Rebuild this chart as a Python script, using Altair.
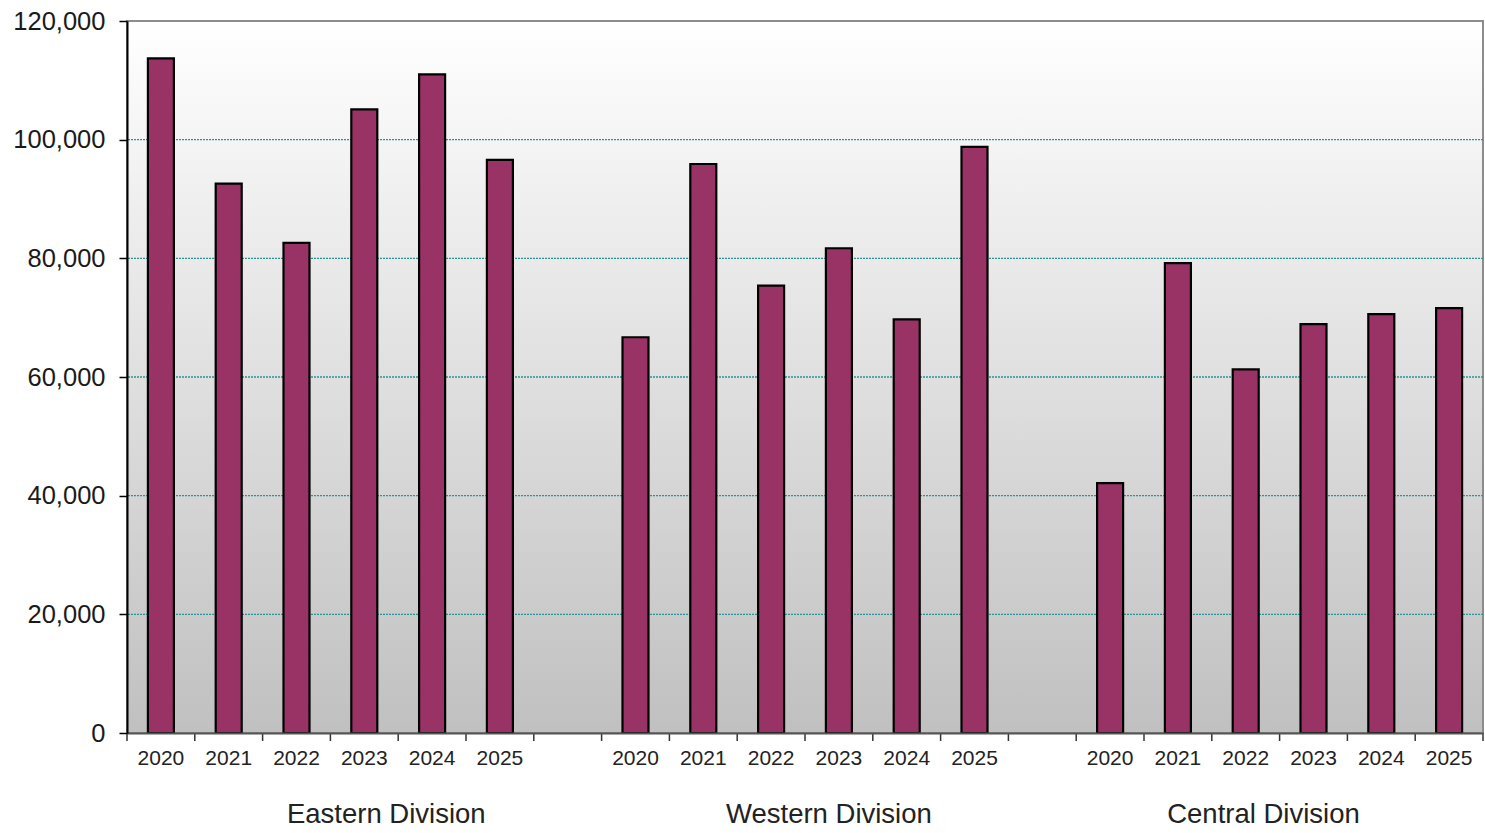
import altair as alt
import pandas as pd

# Annual totals per division, 2020-2025
divisions = ["Eastern Division", "Western Division", "Central Division"]
years = ["2020", "2021", "2022", "2023", "2024", "2025"]
eastern = [113700, 92600, 82600, 105100, 111000, 96600]
western = [66700, 95900, 75400, 81700, 69700, 98800]
central = [42100, 79200, 61300, 68900, 70600, 71600]
y_ticks = [0, 20000, 40000, 60000, 80000, 100000, 120000]

series = [eastern, western, central]

# One band per year, with an empty band between divisions
slot_keys = []
rows = []
for i, (div, vals) in enumerate(zip(divisions, series)):
    for yr, v in zip(years, vals):
        key = f"{div}|{yr}"
        slot_keys.append(key)
        rows.append({"slot": key, "division": div, "year": yr, "value": v})
    if i < len(divisions) - 1:
        slot_keys.append(f"gap{i + 1}")
df = pd.DataFrame(rows)

W, H = 1356, 712
FONT = "Liberation Sans"

x_scale = alt.Scale(domain=slot_keys, paddingInner=0, paddingOuter=0)
y_scale = alt.Scale(domain=[0, 120000], nice=False)

x_axis = alt.Axis(
    title=None,
    labelAngle=0,
    labelExpr="indexof(datum.value, '|') >= 0 ? split(datum.value, '|')[1] : ''",
    labelFont=FONT,
    labelFontSize=21,
    labelColor="#222222",
    labelPadding=14,
    ticks=False,
    domainColor="#555555",
    domainWidth=2,
    grid=False,
    zindex=1,
)
y_axis = alt.Axis(
    title=None,
    values=y_ticks,
    format=",d",
    labelFont=FONT,
    labelFontSize=25.5,
    labelColor="#1a1a1a",
    labelPadding=14,
    tickSize=8,
    tickColor="black",
    tickWidth=1.5,
    domainColor="black",
    domainWidth=2,
    grid=False,
    zindex=1,
)

# Plot-area background: white at the top fading to grey at the bottom
backdrop = alt.Chart(pd.DataFrame({"k": [0]})).mark_rect(
    fill=alt.LinearGradient(
        gradient="linear",
        stops=[
            alt.GradientStop(color="#ffffff", offset=0),
            alt.GradientStop(color="#c0c0c0", offset=1),
        ],
        x1=0, x2=0, y1=0, y2=1,
    ),
    stroke="#8c8c8c",
    strokeWidth=2,
).encode(
    x=alt.value(0), x2=alt.value(W), y=alt.value(0), y2=alt.value(H)
)

# Dotted horizontal gridlines at the inner tick values
grid = alt.Chart(pd.DataFrame({"value": y_ticks[1:-1]})).mark_rule(
    color="#2a9494", strokeDash=[2, 1], strokeWidth=1.3
).encode(y=alt.Y("value:Q", scale=y_scale))

bars = alt.Chart(df).mark_bar(
    width=26, fill="#993366", stroke="black", strokeWidth=2.2
).encode(
    x=alt.X("slot:N", scale=x_scale, axis=x_axis),
    y=alt.Y("value:Q", scale=y_scale, axis=y_axis),
)

# Category tick marks on the band boundaries below the baseline
band_ticks = alt.Chart(pd.DataFrame({"slot": slot_keys})).mark_rule(
    color="#333333", strokeWidth=1.5
).encode(
    x=alt.X("slot:N", scale=x_scale, bandPosition=0),
    y=alt.value(H),
    y2=alt.value(H + 8),
)
end_tick = alt.Chart(pd.DataFrame({"k": [0]})).mark_rule(
    color="#333333", strokeWidth=1.5
).encode(x=alt.value(W), y=alt.value(H), y2=alt.value(H + 8))

# Division names under the year labels
label_shift = [22, -10, -50]
label_layers = []
for div, shift in zip(divisions, label_shift):
    lab_df = pd.DataFrame({"slot": [f"{div}|2023"], "label": [div]})
    label_layers.append(
        alt.Chart(lab_df).mark_text(
            font=FONT, fontSize=27.5, color="#222222", baseline="middle",
            align="center", dx=shift,
        ).encode(
            x=alt.X("slot:N", scale=x_scale),
            y=alt.value(H + 82),
            text="label:N",
        )
    )

chart = alt.layer(
    backdrop, grid, bars, band_ticks, end_tick, *label_layers
).properties(
    width=W,
    height=H,
    autosize=alt.AutoSizeParams(type="none"),
    padding={"left": 127, "top": 21, "right": 2, "bottom": 100},
    background="white",
).configure_view(stroke=None)

chart.save("out.html", embed_options={"renderer": "svg", "actions": False})
